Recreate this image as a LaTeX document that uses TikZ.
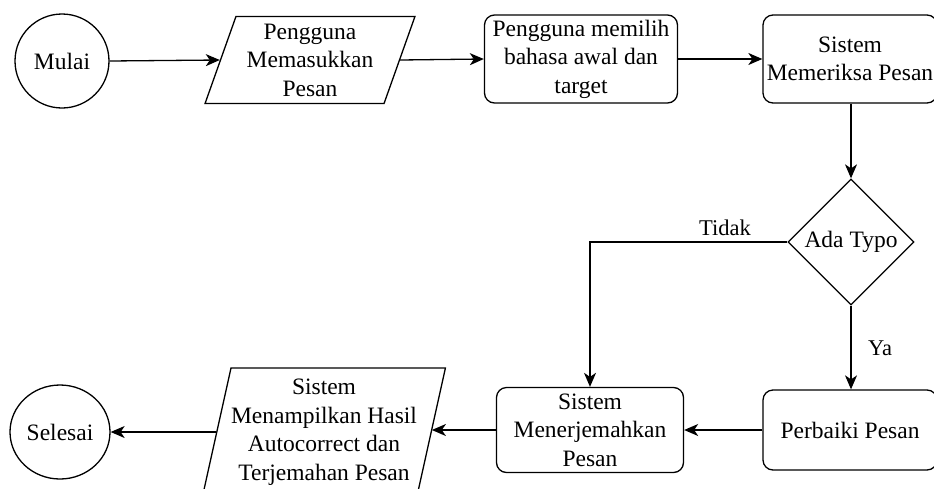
\documentclass[tikz,border=0pt]{standalone}
\usepackage{fontspec}
\setmainfont{Liberation Serif}
\newfontfamily\diagfont{Liberation Serif}
\usetikzlibrary{shapes.geometric,arrows.meta}
\begin{document}
\begin{tikzpicture}[x=1pt,y=-1pt,
  every node/.style={font=\diagfont\fontsize{23.5}{28.5}\selectfont, align=center, inner sep=0pt},
  terminal/.style={draw, line width=1.3pt, ellipse, minimum width=#1, minimum height=94pt},
  procbox/.style={draw, line width=1.3pt, rounded corners=10pt, minimum width=#1},
  iobox/.style={draw, line width=1.3pt, trapezium, trapezium stretches=true},
  decision/.style={draw, line width=1.3pt, diamond, minimum width=126pt, minimum height=126pt},
  flow/.style={line width=1.3pt, -{Stealth[length=14pt,width=12pt,inset=4pt]}},
  lbl/.style={font=\diagfont\fontsize{22.5}{27}\selectfont}
]
\useasboundingbox (0,0) rectangle (934,488);

% top row
\node[terminal=94pt] (mulai) at (62,61) {Mulai};
\node[iobox, trapezium left angle=70, trapezium right angle=110,
      minimum width=210pt, minimum height=87pt] (input) at (310,60)
      {Pengguna\\Memasukkan\\Pesan};
\node[procbox=193pt, minimum height=88pt] (bahasa) at (581,59)
      {Pengguna memilih\\bahasa awal dan\\target};
\node[procbox=174pt, minimum height=88pt] (periksa) at (850,59)
      {Sistem\\Memeriksa Pesan};

% decision
\node[decision] (typo) at (851,242) {Ada Typo};

% bottom row
\node[procbox=174pt, minimum height=80pt] (perbaiki) at (850,430) {Perbaiki Pesan};
\node[procbox=187pt, minimum height=85pt] (terjemah) at (590,430)
      {Sistem\\Menerjemahkan\\Pesan};
\node[iobox, trapezium left angle=75, trapezium right angle=105,
      minimum width=242pt, minimum height=128pt] (hasil) at (324,432)
      {Sistem\\Menampilkan Hasil\\Autocorrect dan\\Terjemahan Pesan};
\node[terminal=100pt] (selesai) at (60,432) {Selesai};

% connectors
\draw[flow] (mulai.east) -- (input.west);
\draw[flow] (input.east) -- (bahasa.west);
\draw[flow] (bahasa.east) -- (periksa.west);
\draw[flow] (periksa.south -| typo.north) -- (typo.north);
\draw[flow] (typo.west) -| (terjemah.north);
\draw[flow] (typo.south) -- (typo.south |- perbaiki.north);
\draw[flow] (perbaiki.west) -- (terjemah.east);
\draw[flow] (terjemah.west) -- (terjemah.west -| hasil.east);
\draw[flow] (hasil.west |- selesai.east) -- (selesai.east);

% branch labels
\node[lbl] (tidak) at (725,228) {Tidak};
\node[lbl] (ya) at (880,348) {Ya};
\end{tikzpicture}
\end{document}
